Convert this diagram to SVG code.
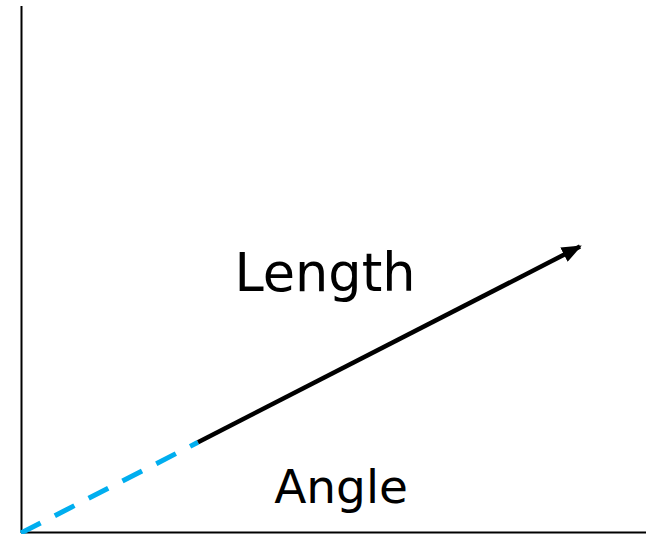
<svg xmlns="http://www.w3.org/2000/svg" width="654" height="534" viewBox="0 0 654 534">
<style>
.axis{stroke:#000;stroke-width:2;fill:none}
.lbl{font-family:"DejaVu Sans",Verdana,sans-serif;fill:#000}
</style>
<defs>
<marker id="ah" markerWidth="20" markerHeight="16" refX="18" refY="8" orient="auto" markerUnits="userSpaceOnUse">
<path d="M0,0 L20,8 L0,16 z" fill="#000"/>
</marker>
</defs>
<rect width="654" height="534" fill="#fff"/>
<g id="axes">
<line class="axis" x1="21.5" y1="6" x2="21.5" y2="533"/>
<line class="axis" x1="21" y1="532.5" x2="646" y2="532.5"/>
</g>
<g id="connectors">
<line x1="21" y1="533" x2="198" y2="442.3" stroke="#00AEEF" stroke-width="5" stroke-dasharray="22,16"/>
<line x1="198" y1="442.3" x2="580" y2="246.5" stroke="#000" stroke-width="4.5" marker-end="url(#ah)"/>
</g>
<g id="length"><text class="lbl" x="325" y="291" font-size="52.5" text-anchor="middle">Length</text></g>
<g id="angle"><text class="lbl" x="341" y="503" font-size="47" text-anchor="middle">Angle</text></g>
</svg>
